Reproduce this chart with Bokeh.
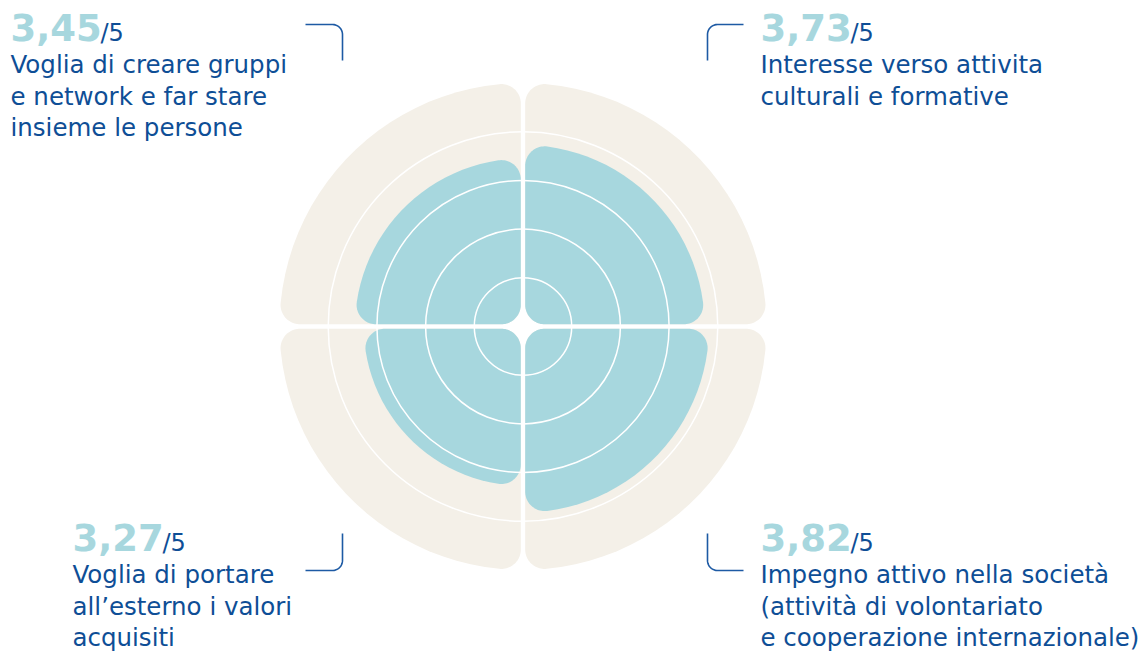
import numpy as np
from bokeh.plotting import figure
from bokeh.models import Range1d
from bokeh.core.properties import value
from bokeh.embed import file_html
from bokeh.resources import INLINE

# ---------------- data ----------------
quadrants = ["TL", "TR", "BR", "BL"]
scores = [3.45, 3.73, 3.82, 3.27]
score_labels = ["3,45", "3,73", "3,82", "3,27"]
max_score = 5
grid_levels = [1, 2, 3, 4]
descriptions = [
    ["Voglia di creare gruppi", "e network e far stare", "insieme le persone"],
    ["Interesse verso attivita", "culturali e formative"],
    ["Impegno attivo nella società", "(attività di volontariato", "e cooperazione internazionale)"],
    ["Voglia di portare", "all\u2019esterno i valori", "acquisiti"],
]

# ---------------- style / layout ----------------
BG = "#F4F0E8"
TEAL = "#A7D7DE"
BLUE = "#0E4E96"
LINE_BLUE = "#1D5AA4"
W, H = 1147, 653
OFF = 0                    # page offset of the figure
CX, CY = 522.5, 326.0      # page px of chart centre
S = 48.7                   # px per score unit
GAP = 2.2 / S              # half gap between quadrants
CORNER = 0.4               # corner rounding radius (units)
BODY_FONT = "DejaVu Sans"
BODY_SIZE = 24.5
VAL_SIZE = 37
SLASH_SIZE = 24
BASE_K = 0.4               # renderer baseline compensation (fraction of font size)

def dx(X):
    return (X - CX) / S

def dy(Y):
    return (CY - Y) / S

signs = {"TL": (-1, 1), "TR": (1, 1), "BR": (1, -1), "BL": (-1, -1)}

def rounded_wedge(R, g, c, n=24):
    a = g + c
    L = np.sqrt((R - c) ** 2 - a ** 2)
    t1 = np.arctan2(a, L)
    t2 = np.arctan2(L, a)
    xs, ys = [], []

    def arc(cx, cy, r, ta, tb):
        t = np.linspace(ta, tb, n)
        xs.extend(cx + r * np.cos(t))
        ys.extend(cy + r * np.sin(t))

    arc(a, a, c, np.pi, 1.5 * np.pi)
    arc(L, a, c, -np.pi / 2, t1)
    arc(0, 0, R, t1, t2)
    arc(a, L, c, t2, np.pi)
    return np.array(xs), np.array(ys)

p = figure(width=W, height=H, output_backend="svg", toolbar_location=None,
           x_range=Range1d((OFF - CX) / S, (OFF + W - CX) / S),
           y_range=Range1d((CY - OFF - H) / S, (CY - OFF) / S),
           min_border=0)
p.axis.visible = False
p.grid.visible = False
p.outline_line_color = None
p.background_fill_color = "white"
p.border_fill_color = "white"

# background wedges
bxs, bys, txs, tys = [], [], [], []
for q, sc in zip(quadrants, scores):
    sx, sy = signs[q]
    x, y = rounded_wedge(max_score, GAP, CORNER)
    bxs.append(list(sx * x)); bys.append(list(sy * y))
    x, y = rounded_wedge(sc, GAP, CORNER)
    txs.append(list(sx * x)); tys.append(list(sy * y))
p.patches(bxs, bys, fill_color=BG, line_color=None)
p.patches(txs, tys, fill_color=TEAL, line_color=None)

# grid circles
p.circle(x=[0] * len(grid_levels), y=[0] * len(grid_levels), radius=grid_levels,
         fill_color=None, line_color="white", line_width=1.5)

# texts (page px positions of baselines)
value_pos = {"TL": (10, 42), "TR": (760, 42), "BR": (760, 552), "BL": (72, 552)}
line_base = {"TL": [74, 106, 137], "TR": [74, 106], "BR": [584, 616, 647], "BL": [584, 616, 647]}
VAL_W = 90

def by(Y, fs):
    return dy(Y - BASE_K * fs)

for q, lab, desc in zip(quadrants, score_labels, descriptions):
    X, Y = value_pos[q]
    p.text(x=[dx(X)], y=[by(Y, VAL_SIZE)], text=[lab], text_font=value("DejaVu Sans"),
           text_font_style="bold", text_font_size=f"{VAL_SIZE}px", text_color=TEAL,
           text_baseline="alphabetic", text_align="left")
    p.text(x=[dx(X + VAL_W)], y=[by(Y, SLASH_SIZE)], text=["/5"], text_font=value(BODY_FONT),
           text_font_size=f"{SLASH_SIZE}px", text_color=BLUE,
           text_baseline="alphabetic", text_align="left")
    ys_ = [by(v, BODY_SIZE) for v in line_base[q][:len(desc)]]
    p.text(x=[dx(X)] * len(desc), y=ys_, text=desc, text_font=value(BODY_FONT),
           text_font_size=f"{BODY_SIZE}px", text_color=BLUE,
           text_baseline="alphabetic", text_align="left")

# connector hooks
def hook(x_h0, x_v, y_h, y_v_end, r=10, n=12):
    sxn = np.sign(x_v - x_h0)
    syn = np.sign(y_v_end - y_h)
    cxp, cyp = x_v - sxn * r, y_h + syn * r
    pts_x = [x_h0]
    pts_y = [y_h]
    t = np.linspace(0, np.pi / 2, n)
    pts_x += list(cxp + sxn * r * np.sin(t))
    pts_y += list(cyp - syn * r * np.cos(t))
    pts_x.append(x_v)
    pts_y.append(y_v_end)
    return [dx(v) for v in pts_x], [dy(v) for v in pts_y]

hooks = [hook(305, 342, 24, 60), hook(743, 707, 24, 60),
         hook(743, 707, 570, 533), hook(305, 342, 570, 533)]
p.multi_line([h[0] for h in hooks], [h[1] for h in hooks], line_color=LINE_BLUE, line_width=1.6)

open("out.html", "w").write(file_html(p, INLINE))
